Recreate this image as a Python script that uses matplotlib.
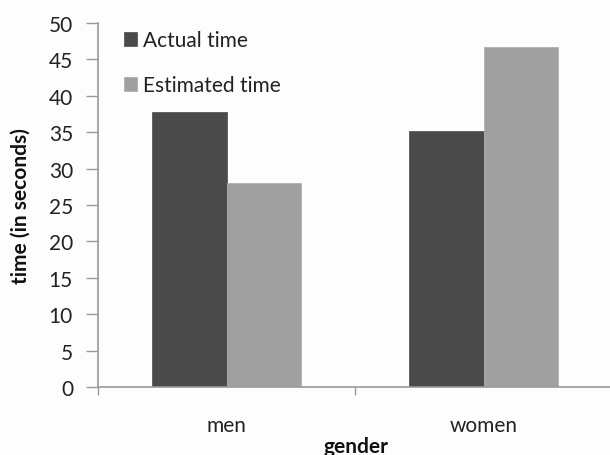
import matplotlib.pyplot as plt
import numpy as np

# data
genders = ["men", "women"]
actual_time = [37.8, 35.2]
estimated_time = [28.0, 46.7]
series_labels = ["Actual time", "Estimated time"]
y_ticks = [0, 5, 10, 15, 20, 25, 30, 35, 40, 45, 50]

plt.rcParams['font.family'] = ['Lato', 'DejaVu Sans']
FS = 15

fig = plt.figure(figsize=(6.1, 4.56), dpi=100)
fig.patch.set_facecolor('#fdfdfd')
ax = fig.add_axes([98 / 610, 68 / 456, 514 / 610, 364 / 456])
ax.set_facecolor('#fdfdfd')

x = np.arange(len(genders))
w = 0.288
ax.bar(x - w / 2, actual_time, w, color='#4a4a4a', edgecolor='#5a5a5a', linewidth=0.6, label=series_labels[0])
ax.bar(x + w / 2, estimated_time, w, color='#a0a0a0', edgecolor='#b0b0b0', linewidth=0.6, label=series_labels[1])

ax.set_xlim(-0.5, 1.5)
ax.set_ylim(0, 50)
ax.set_yticks(y_ticks)
ax.tick_params(axis='y', length=9, width=1, color='#999999', labelsize=FS, labelcolor='#222222', pad=9)

# ticks at category boundaries, labels at centres
ax.set_xticks([-0.5, 0.5, 1.5])
ax.set_xticklabels([])
ax.set_xticks(x, minor=True)
ax.set_xticklabels(genders, minor=True)
ax.tick_params(axis='x', which='major', length=6, width=1, color='#999999')
ax.tick_params(axis='x', which='minor', length=0, labelsize=FS, labelcolor='#222222', pad=20)

for s in ['top', 'right']:
    ax.spines[s].set_visible(False)
for s in ['left', 'bottom']:
    ax.spines[s].set_color('#999999')
    ax.spines[s].set_linewidth(1.2)

ax.set_xlabel('gender', fontsize=FS, fontweight='bold', color='#111111')
ax.xaxis.set_label_coords(258 / 514, -49 / 364)
ax.set_ylabel('time (in seconds)', fontsize=FS, fontweight='bold', color='#111111')
ax.yaxis.set_label_coords(-67 / 514, 0.5)

ax.legend(loc='upper left', bbox_to_anchor=(26 / 514, 0.98), frameon=False, fontsize=FS,
          handlelength=0.63, handleheight=0.63, handletextpad=0.3, labelspacing=1.2,
          borderaxespad=0, borderpad=0, labelcolor='#222222')

plt.savefig('out.png', dpi=100, facecolor=fig.get_facecolor())
